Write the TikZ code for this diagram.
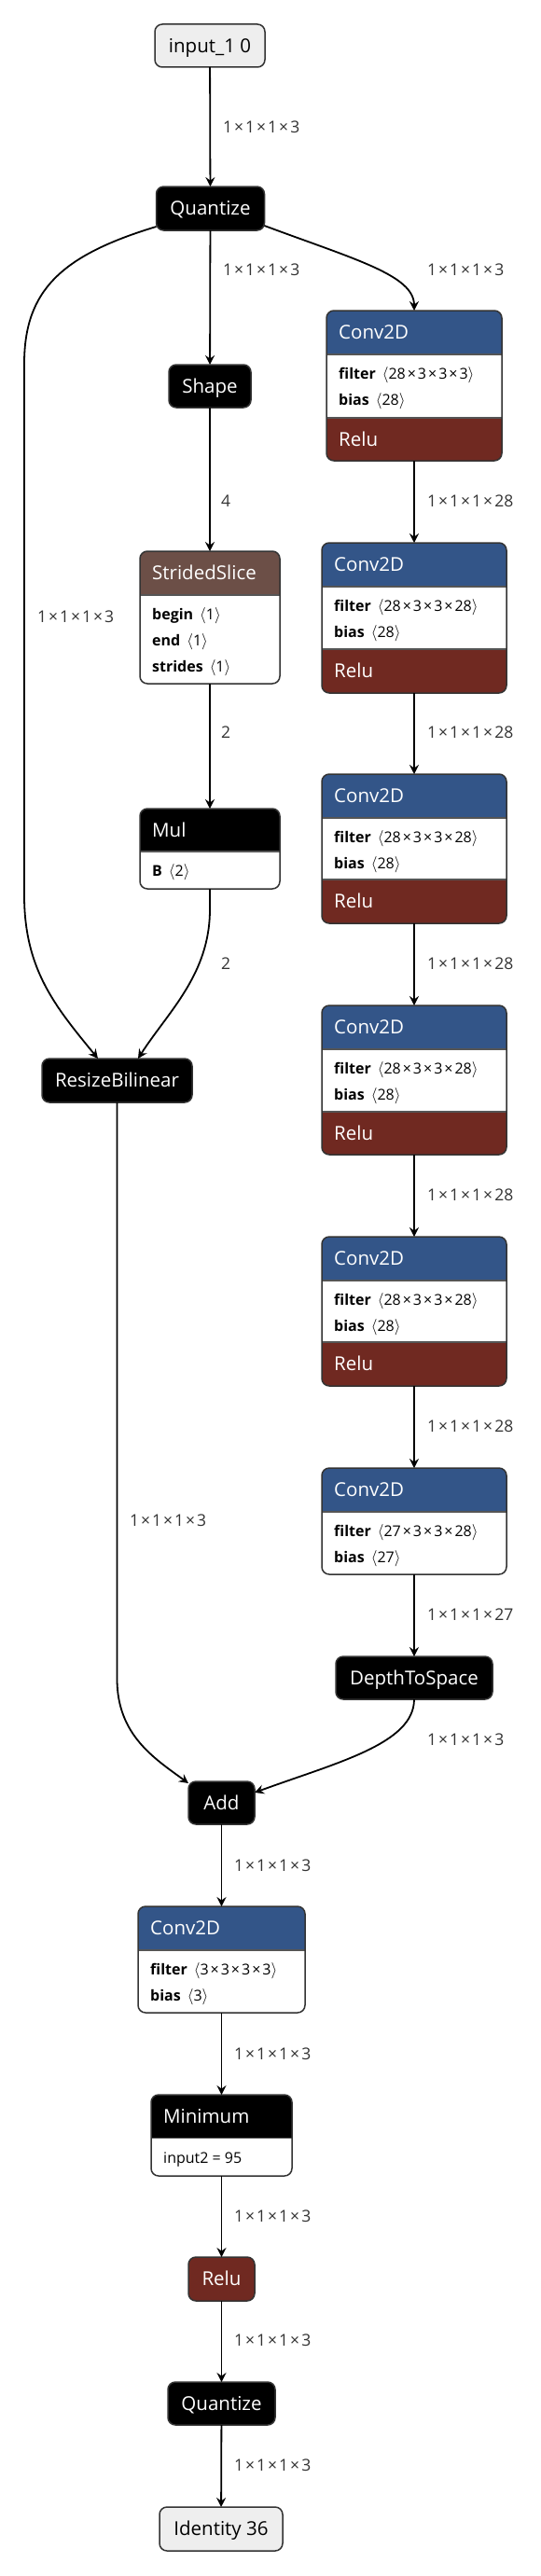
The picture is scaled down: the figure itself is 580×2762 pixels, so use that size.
\documentclass[tikz,border=0pt]{standalone}
\usepackage{fontspec}
\setmainfont{Open Sans}
\usetikzlibrary{arrows.meta,fit}
\definecolor{layerc}{HTML}{335588}
\definecolor{actc}{HTML}{702921}
\definecolor{shapec}{HTML}{6C4F47}
\definecolor{bordc}{HTML}{333333}
\definecolor{divc}{HTML}{555555}
\definecolor{iofill}{HTML}{EEEEEE}
\definecolor{labc}{HTML}{333333}
\newcommand\tms{\kern2pt×\kern2pt}
\newcommand\ttlf{\fontsize{20.5}{24}\selectfont}
\newcommand\atf{\fontsize{16}{19}\selectfont}
\newcommand\lbf{\fontsize{17.5}{21}\selectfont}
\tikzset{
  edge/.style={draw=black,line width=1.8pt,-{Stealth[length=10pt,width=10pt,inset=3.5pt]}},
  elabel/.style={anchor=west,text=labc,font=\lbf,inner sep=0pt,text height=12.5pt,text depth=0pt},
  box/.style={draw=bordc,line width=1.5pt,rounded corners=8pt},
  ttlnode/.style={anchor=west,font=\ttlf,inner sep=0pt,text height=14.7pt,text depth=0pt,text=white},
  ctrnode/.style={font=\ttlf,inner sep=0pt,text height=14.7pt,text depth=0pt},
  attrnode/.style={anchor=west,font=\atf,inner sep=0pt,text height=11.4pt,text depth=0pt,text=black}
}
\newcommand\mkbox[5]{%
  \coordinate (#1-nw) at (#2,#3);\coordinate (#1-se) at (#4,#5);
  \node[inner sep=0pt,outer sep=0pt,fit=(#1-nw)(#1-se)] (#1) {};}
\newcommand\simplenode[8]{%
  \mkbox{#1}{#2}{#3}{#4}{#5}
  \draw[box,fill=#6] (#1-nw) rectangle (#1-se);
  \node[ctrnode,text=#7] (#1-t) at (#1.center) {#8};}
% name x1 x2 ytop yhdr yrelu ybot filter bias
\newcommand\convrelu[9]{%
  \mkbox{#1}{#2}{#4}{#3}{#7}
  \begin{scope}
    \clip[rounded corners=8pt] (#1-nw) rectangle (#1-se);
    \fill[white] (#1-nw) rectangle (#1-se);
    \fill[layerc] (#2,#4) rectangle (#3,#5);
    \fill[actc] (#2,#6) rectangle (#3,#7);
    \draw[divc,line width=1.2pt] (#2,#5) -- (#3,#5) (#2,#6) -- (#3,#6);
  \end{scope}
  \draw[box] (#1-nw) rectangle (#1-se);
  \pgfmathsetmacro\hy{(#4+#5)/2}\pgfmathsetmacro\tx{#2+13}
  \pgfmathsetmacro\ra{#5+21}\pgfmathsetmacro\rb{#5+49}\pgfmathsetmacro\ry{(#6+#7)/2}
  \node[ttlnode] (#1-t) at (\tx,\hy) {Conv2D};
  \node[attrnode] (#1-a1) at (\tx,\ra) {\textbf{filter}\hspace{7pt}$\langle$#8$\rangle$};
  \node[attrnode] (#1-a2) at (\tx,\rb) {\textbf{bias}\hspace{7pt}$\langle$#9$\rangle$};
  \node[ttlnode] (#1-r) at (\tx,\ry) {Relu};}
% name x1 x2 ytop yhdr ybot filter bias
\newcommand\convplain[8]{%
  \mkbox{#1}{#2}{#4}{#3}{#6}
  \begin{scope}
    \clip[rounded corners=8pt] (#1-nw) rectangle (#1-se);
    \fill[white] (#1-nw) rectangle (#1-se);
    \fill[layerc] (#2,#4) rectangle (#3,#5);
    \draw[divc,line width=1.2pt] (#2,#5) -- (#3,#5);
  \end{scope}
  \draw[box] (#1-nw) rectangle (#1-se);
  \pgfmathsetmacro\hy{(#4+#5)/2}\pgfmathsetmacro\tx{#2+13}
  \pgfmathsetmacro\ra{#5+21}\pgfmathsetmacro\rb{#5+49}
  \node[ttlnode] (#1-t) at (\tx,\hy) {Conv2D};
  \node[attrnode] (#1-a1) at (\tx,\ra) {\textbf{filter}\hspace{7pt}$\langle$#7$\rangle$};
  \node[attrnode] (#1-a2) at (\tx,\rb) {\textbf{bias}\hspace{7pt}$\langle$#8$\rangle$};}
% name x1 x2 ytop yhdr ybot color title
\newcommand\hdrbox[8]{%
  \mkbox{#1}{#2}{#4}{#3}{#6}
  \begin{scope}
    \clip[rounded corners=8pt] (#1-nw) rectangle (#1-se);
    \fill[white] (#1-nw) rectangle (#1-se);
    \fill[#7] (#2,#4) rectangle (#3,#5);
    \draw[divc,line width=1.2pt] (#2,#5) -- (#3,#5);
  \end{scope}
  \draw[box] (#1-nw) rectangle (#1-se);
  \pgfmathsetmacro\hy{(#4+#5)/2}\pgfmathsetmacro\tx{#2+13}
  \node[ttlnode] (#1-t) at (\tx,\hy) {#8};}
\begin{document}
\begin{tikzpicture}[x=1pt,y=-1pt]
\fill[white] (0,0) rectangle (580,2762);
\useasboundingbox (0,0) rectangle (580,2762);

% ---- nodes ----
\simplenode{in}{166}{26}{284}{72}{iofill}{black}{input\_1 0}
\simplenode{q1}{167.5}{200}{283.5}{247}{black}{white}{Quantize}
\simplenode{shp}{181}{391}{269}{437}{black}{white}{Shape}

\hdrbox{ss}{150}{300}{591}{638}{733}{shapec}{StridedSlice}
\node[attrnode] (ss-a1) at (163,659) {\textbf{begin}\hspace{7pt}$\langle$1$\rangle$};
\node[attrnode] (ss-a2) at (163,687) {\textbf{end}\hspace{7pt}$\langle$1$\rangle$};
\node[attrnode] (ss-a3) at (163,715) {\textbf{strides}\hspace{7pt}$\langle$1$\rangle$};

\hdrbox{mul}{150}{300}{867}{913}{953}{black}{Mul}
\node[attrnode] (mul-a1) at (163,934) {\textbf{B}\hspace{7pt}$\langle$2$\rangle$};

\simplenode{rs}{45}{1135}{206}{1182}{black}{white}{ResizeBilinear}

\convrelu{c1}{350}{538}{333}{380}{448}{494}{28\tms3\tms3\tms3}{28}
\convrelu{c2}{345}{543}{582}{629}{696}{743}{28\tms3\tms3\tms28}{28}
\convrelu{c3}{345}{543}{830}{877}{943}{990}{28\tms3\tms3\tms28}{28}
\convrelu{c4}{345}{543}{1078}{1125}{1192}{1238}{28\tms3\tms3\tms28}{28}
\convrelu{c5}{345}{543}{1326}{1373}{1439}{1486}{28\tms3\tms3\tms28}{28}
\convplain{c6}{345}{543}{1574}{1621}{1688}{27\tms3\tms3\tms28}{27}

\simplenode{d2s}{360}{1776}{528}{1822}{black}{white}{DepthToSpace}
\simplenode{add}{202}{1910}{273}{1956}{black}{white}{Add}
\convplain{c7}{148}{327}{2044}{2091}{2158}{3\tms3\tms3\tms3}{3}

\hdrbox{mn}{162}{313}{2246}{2292.5}{2333}{black}{Minimum}
\node[attrnode] (mn-a1) at (175,2314) {input2 = 95};

\simplenode{relu}{202}{2420}{273}{2467}{actc}{white}{Relu}
\simplenode{q2}{180}{2554}{295}{2600}{black}{white}{Quantize}
\simplenode{out}{171}{2688}{303}{2735}{iofill}{black}{Identity 36}

% ---- edges ----
\draw[edge] (in) -- (q1);
\draw[edge] (q1) -- (shp);
\draw[edge] (shp) -- (ss);
\draw[edge] (ss) -- (mul);
\draw[edge] ([yshift=5pt]q1.south east) .. controls (380,278) and (444,295) .. (c1.north);
\draw[edge] ([yshift=4pt]q1.south west) .. controls (65,274) and (26,312) .. (26,390)
  -- (26,960) .. controls (26,1040) and (60,1080) .. ([xshift=-20.5pt]rs.north);
\draw[edge] (mul.south) -- (225,975) .. controls (225,1045) and (180,1085) .. ([xshift=22.5pt]rs.north);
\draw[edge] (c1) -- (c2);
\draw[edge] (c2) -- (c3);
\draw[edge] (c3) -- (c4);
\draw[edge] (c4) -- (c5);
\draw[edge] (c5) -- (c6);
\draw[edge] (c6) -- (d2s);
\draw[edge] (rs.south) -- (125.5,1800) .. controls (125.5,1860) and (165,1885) .. ([yshift=-2pt]add.north west);
\draw[edge] (d2s.south) .. controls (444,1870) and (360,1890) .. ([yshift=11pt]add.east);
\draw[edge] (add) -- (c7);
\draw[edge] (c7) -- (mn);
\draw[edge] (mn) -- (relu);
\draw[edge] (relu) -- (q2);
\draw[edge] (q2) -- (out);

% ---- edge labels ----
\node[elabel] (l1) at (239,136) {1\tms1\tms1\tms3};
\node[elabel] (l2) at (239,289) {1\tms1\tms1\tms3};
\node[elabel] (l3) at (458,289) {1\tms1\tms1\tms3};
\node[elabel] (l4) at (40,661) {1\tms1\tms1\tms3};
\node[elabel] (l5) at (237,537) {4};
\node[elabel] (l6) at (237,785) {2};
\node[elabel] (l7) at (237,1033) {2};
\node[elabel] (l8) at (458,537) {1\tms1\tms1\tms28};
\node[elabel] (l9) at (458,785) {1\tms1\tms1\tms28};
\node[elabel] (l10) at (458,1033) {1\tms1\tms1\tms28};
\node[elabel] (l11) at (458,1281) {1\tms1\tms1\tms28};
\node[elabel] (l12) at (458,1529) {1\tms1\tms1\tms28};
\node[elabel] (l13) at (458,1731) {1\tms1\tms1\tms27};
\node[elabel] (l14) at (139,1630) {1\tms1\tms1\tms3};
\node[elabel] (l15) at (458,1865) {1\tms1\tms1\tms3};
\node[elabel] (l16) at (251,2000) {1\tms1\tms1\tms3};
\node[elabel] (l17) at (251,2202) {1\tms1\tms1\tms3};
\node[elabel] (l18) at (251,2376) {1\tms1\tms1\tms3};
\node[elabel] (l19) at (251,2509) {1\tms1\tms1\tms3};
\node[elabel] (l20) at (251,2643) {1\tms1\tms1\tms3};
\end{tikzpicture}
\end{document}
